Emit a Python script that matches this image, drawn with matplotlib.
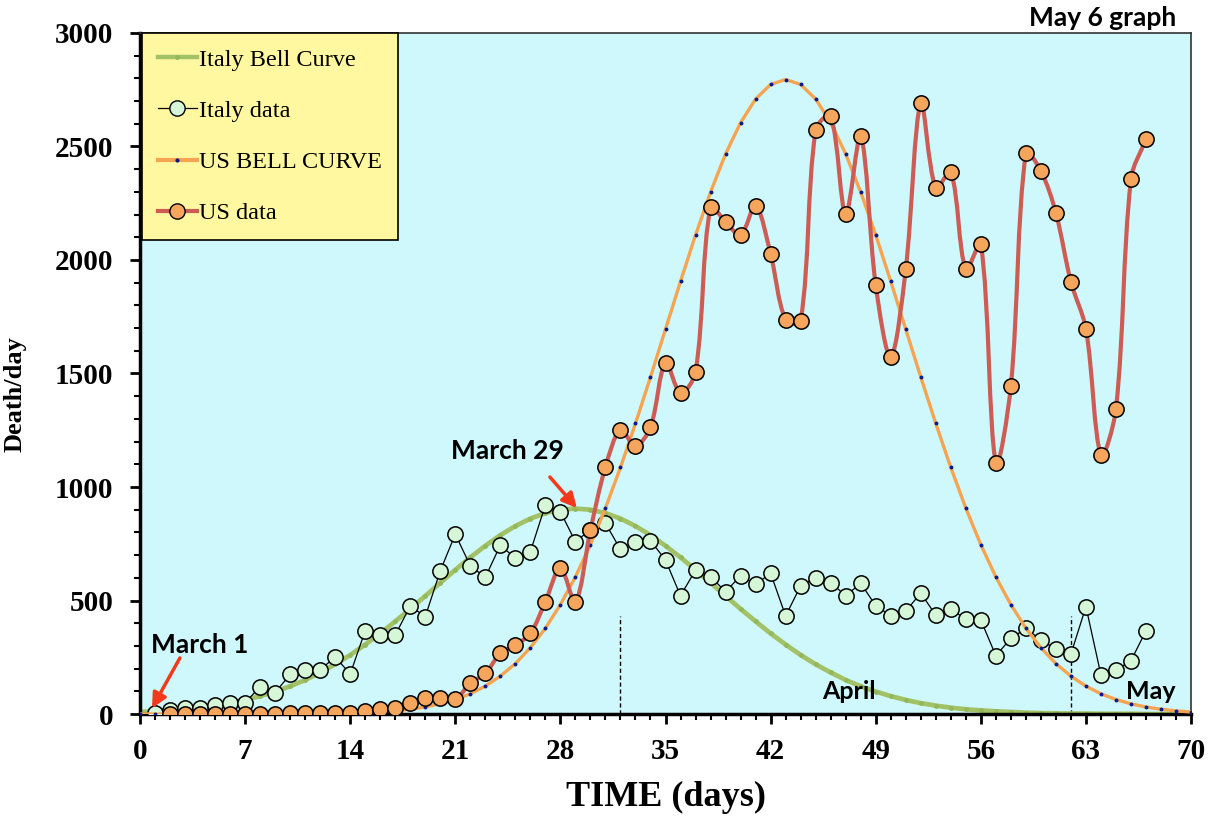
import matplotlib
matplotlib.use('Agg')
import numpy as np
from matplotlib import pyplot as plt
from matplotlib.path import Path
from matplotlib.patches import PathPatch
from matplotlib.lines import Line2D
from matplotlib.ticker import MultipleLocator

# days since Feb 29 (day 1 = March 1)
italy_days = list(range(1, 68))
italy_deaths = [5, 18, 28, 28, 40, 50, 50, 120, 94, 175, 194, 194, 252, 176, 367, 348, 348,
                476, 429, 631, 792, 653, 602, 744, 686, 715, 921, 891, 759, 812, 840, 725,
                759, 764, 678, 521, 634, 605, 539, 609, 571, 620, 432, 565, 601, 579, 521,
                576, 477, 433, 454, 532, 436, 461, 419, 414, 257, 333, 377, 326, 285, 264,
                473, 172, 194, 235, 367]

us_days = list(range(2, 68))
us_deaths = [2, 1, 0, 2, 2, 2, 2, 2, 3, 5, 3, 3, 6, 14, 22, 28, 50, 69, 69, 66, 135, 179,
             267, 304, 355, 495, 642, 495, 810, 1088, 1251, 1181, 1264, 1546, 1414, 1507,
             2233, 2167, 2110, 2238, 2026, 1736, 1731, 2573, 2634, 2203, 2546, 1890, 1573,
             1960, 2692, 2317, 2388, 1960, 2070, 1106, 1445, 2471, 2392, 2207, 1903, 1696,
             1141, 1344, 2357, 2533]

bell_days = list(range(0, 71))
italy_bell = [9, 12, 16, 21, 28, 37, 48, 62, 79, 99, 122, 150, 183, 219, 260, 306, 355, 408,
              463, 520, 578, 635, 690, 741, 788, 828, 861, 885, 900, 905, 900, 885, 861, 828,
              788, 741, 690, 635, 578, 520, 463, 408, 355, 306, 260, 219, 183, 150, 122, 99,
              79, 62, 48, 37, 28, 21, 16, 12, 9, 6, 4, 3, 2, 2, 1, 1, 1, 0, 0, 0, 0]
us_bell = [0, 0, 0, 0, 0, 0, 0, 0, 0, 0, 0.6, 0.9, 1.5, 2.5, 3.9, 6, 9, 14, 21, 31, 45, 64, 89,
           123, 167, 222, 292, 378, 482, 604, 746, 907, 1086, 1280, 1484, 1695, 1906, 2110,
           2299, 2467, 2605, 2709, 2773, 2795, 2773, 2709, 2605, 2467, 2299, 2110, 1906, 1695,
           1484, 1280, 1086, 907, 746, 604, 482, 378, 292, 222, 167, 123, 89, 64, 45, 31, 21,
           14, 9]

month_marks = [32, 62]   # April 1, May 1


def smooth_path(xs, ys, sx, sy):
    # spreadsheet-like smoothed line: bezier tangents weighted by neighbouring
    # segment lengths measured on screen (sx, sy = pixels per data unit)
    p = np.column_stack([xs, ys]).astype(float)
    s = np.array([sx, sy])
    n = len(p)
    d = [np.hypot(*((p[i + 1] - p[i]) * s)) for i in range(n - 1)]
    verts = [p[0]]
    codes = [Path.MOVETO]
    for i in range(n - 1):
        if i > 0:
            t = p[i + 1] - p[i - 1]
            c1 = p[i] + t * d[i] / (d[i - 1] + d[i]) / 3.0
        else:
            c1 = p[i] + (p[i + 1] - p[i]) / 3.0
        if i + 2 < n:
            t = p[i + 2] - p[i]
            c2 = p[i + 1] - t * d[i] / (d[i] + d[i + 1]) / 3.0
        else:
            c2 = p[i + 1] - (p[i + 1] - p[i]) / 3.0
        verts += [c1, c2, p[i + 1]]
        codes += [Path.CURVE4] * 3
    return Path(verts, codes)


serif = 'Liberation Serif'
sans = 'Lato'

fig = plt.figure(figsize=(12.13, 8.18), dpi=100)
ax = fig.add_axes([0.1154, 0.1271, 0.8665, 0.8326])
ax.set_facecolor('#cff8fd')

# Italy bell curve
ax.plot(bell_days, italy_bell, color='#a3c267', lw=3.4, marker='o', ms=3.5,
        mfc='#93b85a', mec='none', zorder=2)
# Italy data
ax.plot(italy_days, italy_deaths, color='black', lw=0.9, marker='o', ms=11,
        mfc='#d5f7d7', mec='black', mew=1.1, zorder=3)
# US bell curve
ax.plot(bell_days, us_bell, color='#f5a451', lw=2.4, zorder=4)
ax.plot(bell_days, us_bell, linestyle='none', marker='o', ms=2.8, mfc='#0a1a8c',
        mec='none', zorder=4.5)
# US data, smoothed line
ax.add_patch(PathPatch(smooth_path(us_days, us_deaths, 15.01, 0.227), fill=False,
                       edgecolor='#cd5c55', lw=3.0, zorder=5))
ax.plot(us_days, us_deaths, linestyle='none', marker='o', ms=11, mfc='#f5a65c',
        mec='black', mew=1.1, zorder=6)

ax.vlines(month_marks, 0, 430, colors='black', linestyles=(0, (3, 2)), lw=1.0, zorder=1.5)

ax.set_xlim(0, 70)
ax.set_ylim(0, 3000)
ax.xaxis.set_major_locator(MultipleLocator(7))
ax.xaxis.set_minor_locator(MultipleLocator(1))
ax.yaxis.set_major_locator(MultipleLocator(500))
ax.yaxis.set_minor_locator(MultipleLocator(100))
ax.tick_params(axis='both', which='major', length=7, width=2, direction='out')
ax.tick_params(axis='x', which='major', pad=10)
ax.tick_params(axis='y', which='major', pad=12)
ax.tick_params(axis='both', which='minor', length=4, width=1.5, direction='out')
for lab in ax.get_xticklabels() + ax.get_yticklabels():
    lab.set_fontfamily(serif)
    lab.set_fontweight('bold')
    lab.set_fontsize(21)

for s in ['left', 'bottom']:
    ax.spines[s].set_linewidth(2.5)
for s in ['top', 'right']:
    ax.spines[s].set_linewidth(1.2)
    ax.spines[s].set_color('#333333')

ax.set_xlabel('TIME (days)', fontfamily=serif, fontweight='bold', fontsize=26)
ax.xaxis.set_label_coords(0.5, -0.099)
ax.set_ylabel('Death/day', fontfamily=serif, fontweight='bold', fontsize=19)
ax.yaxis.set_label_coords(-0.1075, 0.47)

handles = [
    Line2D([], [], color='#a3c267', lw=3.2, marker='o', ms=3.5, mfc='#93b85a', mec='none'),
    Line2D([], [], color='black', lw=0.9, marker='o', ms=11, mfc='#d5f7d7', mec='black'),
    Line2D([], [], color='#f5a451', lw=3, marker='o', ms=3, mfc='#0a1a8c', mec='none'),
    Line2D([], [], color='#cd5c55', lw=3, marker='o', ms=11, mfc='#f5a65c', mec='black'),
]
labels = ['Italy Bell Curve', 'Italy data', 'US BELL CURVE', 'US data']
leg = ax.legend(handles, labels, loc='upper left', bbox_to_anchor=(0.002, 1.0),
                prop={'family': serif, 'size': 17.5}, frameon=True, fancybox=False,
                handlelength=1.6, handletextpad=0.1, labelspacing=1.2, borderpad=0.65,
                borderaxespad=0.0)
leg.get_frame().set_facecolor('#fff8a0')
leg.get_frame().set_edgecolor('black')
leg.get_frame().set_linewidth(1.2)
leg.get_frame().set_alpha(1)
leg.set_zorder(10)

arrow = dict(arrowstyle='-|>', color='#f2391c', lw=2.5, mutation_scale=22,
             shrinkA=0, shrinkB=0)
ax.annotate('', xy=(0.8, 26), xytext=(2.66, 247), arrowprops=arrow, zorder=8)
ax.annotate('', xy=(29.1, 907), xytext=(27.3, 1044), arrowprops=arrow, zorder=8)
ax.text(0.75, 305, 'March 1', fontfamily=sans, fontweight='bold', fontsize=19,
        va='center', ha='left', zorder=8)
ax.text(20.7, 1158, 'March 29', fontfamily=sans, fontweight='bold', fontsize=19,
        va='center', ha='left', zorder=8)
ax.text(45.4, 100, 'April', fontfamily=sans, fontweight='bold', fontsize=18,
        va='center', ha='left', zorder=8)
ax.text(65.7, 100, 'May', fontfamily=sans, fontweight='bold', fontsize=18,
        va='center', ha='left', zorder=8)
fig.text(0.970, 0.978, 'May 6 graph', fontfamily=sans, fontweight='bold', fontsize=19,
         va='center', ha='right')

fig.savefig('out.png', dpi=100)
